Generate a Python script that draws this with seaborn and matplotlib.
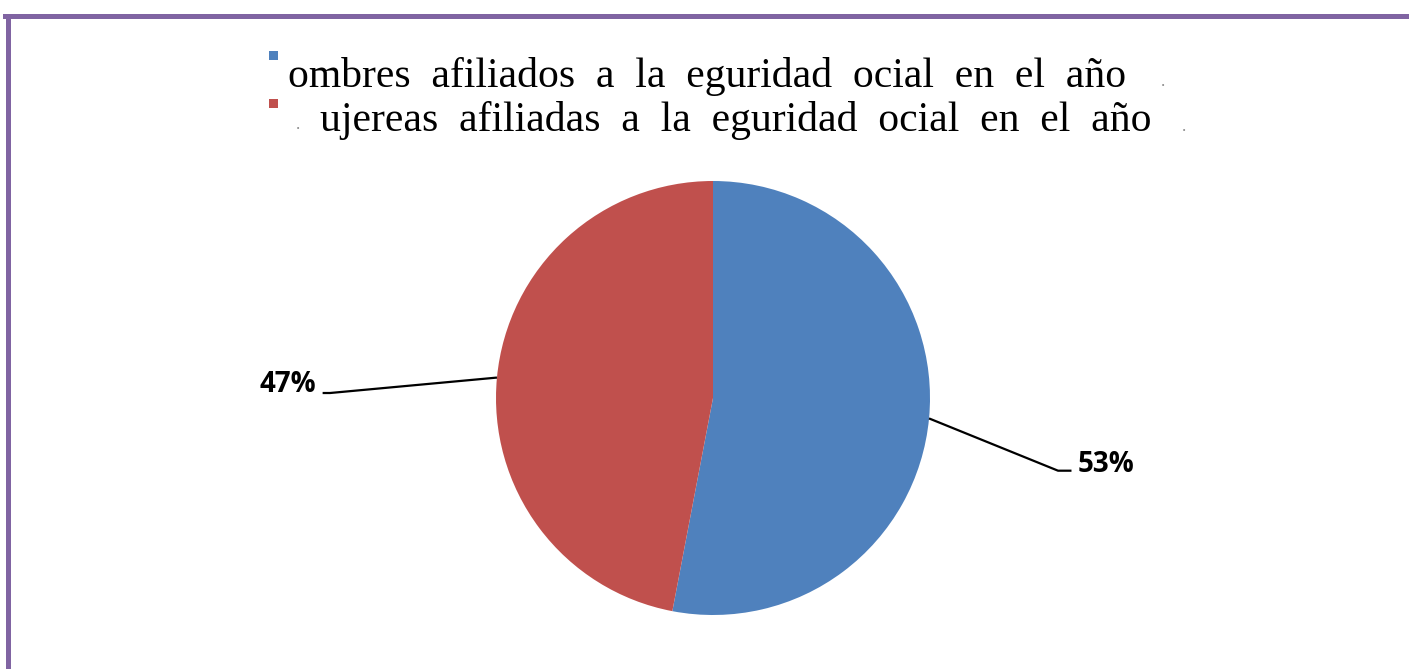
import numpy as np
import matplotlib.pyplot as plt
import matplotlib.patches as mpatches
import seaborn as sns

# data
categories = ["Hombres afiliados a la Seguridad Social", "Mujeres afiliadas a la Seguridad Social"]
legend_text = ["ombres  afiliados  a  la  eguridad  ocial  en  el  año",
               "ujereas  afiliadas  a  la  eguridad  ocial  en  el  año"]
shares = [53, 47]
pct_labels = ["53%", "47%"]

sns.set_style("white")
colors = ["#4F81BD", "#C0504D"]

W, H = 1409, 669
fig = plt.figure(figsize=(W / 100, H / 100), dpi=100)
fig.patch.set_facecolor("white")

# purple frame (top + left)
purple = "#8064A2"
fig.add_artist(mpatches.Rectangle((3 / W, 1 - 19 / H), 1, 5 / H, transform=fig.transFigure,
                                  color=purple, lw=0))
fig.add_artist(mpatches.Rectangle((6 / W, 0), 5 / W, 1 - 14 / H, transform=fig.transFigure,
                                  color=purple, lw=0))

# pie axes: centre (713, 398), radius 217 px
cx, cy, r = 713, 398, 217
ax = fig.add_axes([(cx - r) / W, (H - cy - r) / H, 2 * r / W, 2 * r / H])
wedges, _ = ax.pie(shares, colors=colors, startangle=90, counterclock=False,
                   radius=1, wedgeprops=dict(linewidth=0))
ax.set_xlim(-1, 1)
ax.set_ylim(-1, 1)
ax.set_aspect("equal")
ax.axis("off")

# leader lines and percentage labels (text x, baseline y, elbow x) in pie units
label_pos = {0: (1.682, -0.335, 1.590), 1: (-1.829, 0.023, -1.765)}
for i, w in enumerate(wedges):
    ang = np.deg2rad((w.theta1 + w.theta2) / 2)
    ex, ey = np.cos(ang), np.sin(ang)
    tx, ty, elbow_x = label_pos[i]
    side = 1 if ex > 0 else -1
    stub_x = tx - side * 0.03
    ax.plot([ex, elbow_x, stub_x], [ey, ty, ty], color="black", lw=1.6,
            clip_on=False, solid_capstyle="butt")
    ax.text(tx, ty - side * 0.005, pct_labels[i], ha="left" if side > 0 else "right",
            va="baseline", fontsize=20, fontweight="bold", family="Open Sans", color="black")

# legend block at top (serif text, small squares)
serif = ["Liberation Serif", "DejaVu Serif"]
fig.add_artist(mpatches.Rectangle((269 / W, 1 - 60 / H), 9 / W, 9 / H,
                                  transform=fig.transFigure, color=colors[0], lw=0))
fig.add_artist(mpatches.Rectangle((269 / W, 1 - 108 / H), 9 / W, 9 / H,
                                  transform=fig.transFigure, color=colors[1], lw=0))
fig.text(288 / W, 1 - 87 / H, legend_text[0], fontsize=30, family=serif,
         ha="left", va="baseline", color="black")
fig.text(320 / W, 1 - 131 / H, legend_text[1], fontsize=30, family=serif,
         ha="left", va="baseline", color="black")
# stray small dots of the original legend
for x, y in [(1163, 86), (298, 129), (1184, 131)]:
    fig.text(x / W, 1 - y / H, ".", fontsize=12, family=serif, color="#888888",
             ha="center", va="baseline")

fig.savefig("out.png", dpi=100, facecolor="white")
